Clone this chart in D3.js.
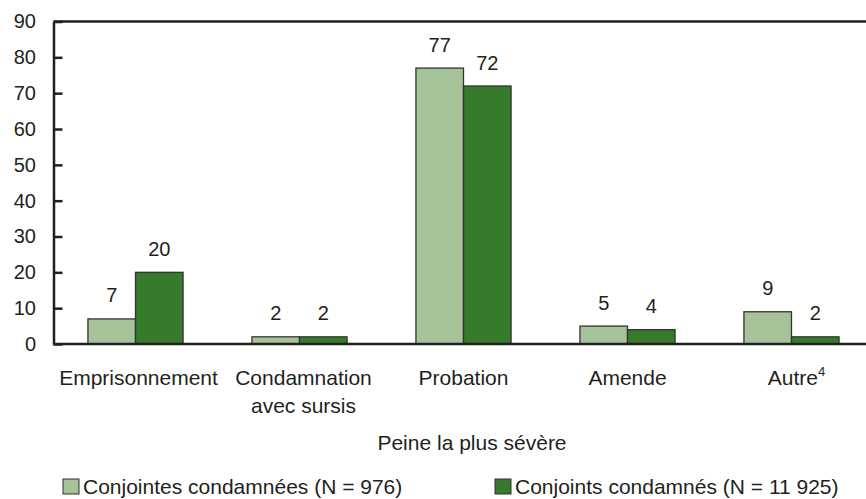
<!DOCTYPE html>
<html><head><meta charset="utf-8">
<script src="https://cdn.jsdelivr.net/npm/d3@7"></script>
<style>body{margin:0;background:#fff;}svg{display:block;font-family:"Liberation Sans",Arial,sans-serif;}</style>
</head><body><svg id="c" width="866" height="499"></svg>
<script>
const categories = ["Emprisonnement", "Condamnation avec sursis", "Probation", "Amende", "Autre"];
const seriesNames = ["Conjointes condamnées (N = 976)", "Conjoints condamnés (N = 11 925)"];
const femmes = [7, 2, 77, 5, 9];
const hommes = [20, 2, 72, 4, 2];
const yTicks = [0, 10, 20, 30, 40, 50, 60, 70, 80, 90];
const colors = ["#a6c298", "#367a2b"];

const ink = "#231f20";
const svg = d3.select("#c");
const x = d3.scaleBand().domain(categories).range([53.5, 873.5]).paddingInner(0.42).paddingOuter(0.21);
const xs = d3.scaleBand().domain([0, 1]).range([0, x.bandwidth()]);
const y = d3.scaleLinear().domain([0, 90]).range([344, 21.5]);

// frame top line
svg.append("line").attr("x1", 53.5).attr("x2", 866).attr("y1", y(90)).attr("y2", y(90))
  .attr("stroke", ink).attr("stroke-width", 2.5);

const series = [femmes, hommes];
series.forEach((vals, si) => {
  svg.append("g").selectAll("rect").data(vals).join("rect")
    .attr("x", (d, i) => x(categories[i]) + xs(si))
    .attr("width", xs.bandwidth())
    .attr("y", d => y(d))
    .attr("height", d => y(0) - y(d))
    .attr("fill", colors[si]).attr("stroke", "#333").attr("stroke-width", 1.3);
  svg.append("g").selectAll("text").data(vals).join("text")
    .attr("x", (d, i) => x(categories[i]) + xs(si) + xs.bandwidth() / 2)
    .attr("y", d => y(d) - 16.5)
    .attr("text-anchor", "middle").attr("font-size", 20).attr("fill", ink)
    .text(d => d);
});

// y axis
const ya = svg.append("g").attr("transform", "translate(53.5,0)")
  .call(d3.axisLeft(y).tickValues(yTicks).tickSize(0).tickPadding(17.5));
ya.select(".domain").attr("stroke", ink).attr("stroke-width", 2.5);
ya.selectAll("text").attr("font-size", 20).attr("fill", ink).attr("font-family", "Liberation Sans, Arial, sans-serif");
ya.selectAll(".tick").append("line").attr("x1", 0).attr("x2", 9).attr("stroke", ink).attr("stroke-width", 2.5);

// x axis line
svg.append("line").attr("x1", 53.5).attr("x2", 866).attr("y1", y(0)).attr("y2", y(0))
  .attr("stroke", ink).attr("stroke-width", 2.5);

// x labels
const xl = svg.append("g").attr("font-size", 21).attr("fill", ink);
categories.forEach((c, i) => {
  const cx = x(c) + x.bandwidth() / 2 + (i === 0 ? 3 : i === 1 ? 4 : 0);
  if (c === "Condamnation avec sursis") {
    xl.append("text").attr("x", cx).attr("y", 385).attr("text-anchor", "middle").text("Condamnation");
    xl.append("text").attr("x", cx).attr("y", 413).attr("text-anchor", "middle").text("avec sursis");
  } else if (c === "Autre") {
    const t = xl.append("text").attr("x", cx + 5).attr("y", 385).attr("text-anchor", "middle");
    t.append("tspan").text("Autre");
    t.append("tspan").attr("font-size", 13).attr("dy", -9).text("4");
  } else {
    xl.append("text").attr("x", cx).attr("y", 385).attr("text-anchor", "middle").text(c);
  }
});

svg.append("text").attr("x", 472).attr("y", 450).attr("text-anchor", "middle").attr("font-size", 21).attr("fill", ink).text("Peine la plus sévère");

// legend
const legX = [63, 495];
seriesNames.forEach((n, i) => {
  svg.append("rect").attr("x", legX[i]).attr("y", 479).attr("width", 16).attr("height", 15)
    .attr("fill", colors[i]).attr("stroke", "#333").attr("stroke-width", 1);
  svg.append("text").attr("x", legX[i] + 20).attr("y", 494).attr("font-size", 21).attr("fill", ink).text(n);
});
</script></body></html>
